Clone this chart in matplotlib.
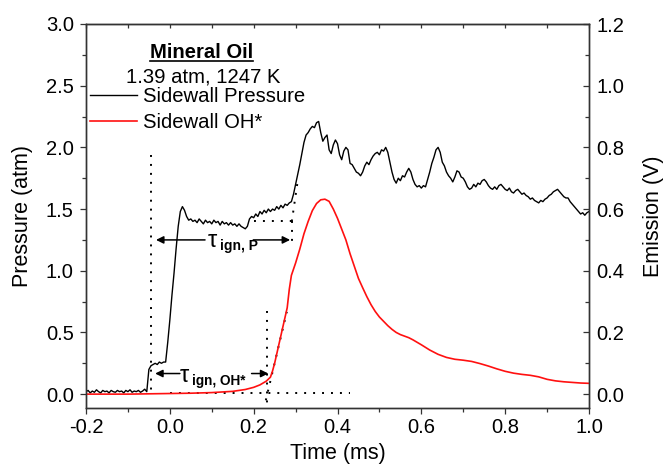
import numpy as np
import matplotlib
matplotlib.use("Agg")
import matplotlib.pyplot as plt
from matplotlib.lines import Line2D

plt.rcParams['font.family'] = ['Liberation Sans', 'DejaVu Sans']

# ---------------- data ----------------
# Sidewall pressure (atm), sampled every 0.005 ms from -0.2 to 1.0 ms
pres_time = np.round(np.arange(-0.200, 1.0001, 0.005), 3)
pres_atm = [
    0.02, 0.03, 0.01, 0.025, 0.015, 0.035, 0.02, 0.01, 0.03, 0.02,        # -0.20
    0.025, 0.01, 0.03, 0.02, 0.015, 0.03, 0.02, 0.025, 0.01, 0.03,        # -0.15
    0.02, 0.035, 0.015, 0.025, 0.02, 0.03, 0.015, 0.025, 0.04, 0.02,      # -0.10
    0.20, 0.23, 0.24, 0.25, 0.24, 0.26, 0.25, 0.26, 0.26, 0.42,           # -0.05
    0.60, 0.80, 0.98, 1.18, 1.36, 1.48, 1.52, 1.49, 1.44, 1.41,           # 0.00
    1.42, 1.40, 1.41, 1.39, 1.42, 1.40, 1.38, 1.41, 1.39, 1.40,           # 0.05
    1.38, 1.41, 1.39, 1.40, 1.37, 1.40, 1.38, 1.39, 1.37, 1.39,           # 0.10
    1.37, 1.38, 1.36, 1.38, 1.36, 1.35, 1.34, 1.36, 1.42, 1.44,           # 0.15
    1.43, 1.46, 1.44, 1.48, 1.46, 1.49, 1.47, 1.50, 1.48, 1.50,           # 0.20
    1.49, 1.52, 1.50, 1.53, 1.51, 1.54, 1.53, 1.55, 1.56, 1.62,           # 0.25
    1.70, 1.78, 1.86, 1.95, 2.04, 2.10, 2.12, 2.15, 2.17, 2.16,           # 0.30
    2.20, 2.21, 2.12, 2.05, 2.08, 2.10, 1.98, 1.95, 2.02, 2.06,           # 0.35
    2.03, 1.94, 1.90, 1.97, 2.00, 1.98, 1.87, 1.86, 1.83, 1.80,           # 0.40
    1.79, 1.77, 1.80, 1.85, 1.88, 1.86, 1.90, 1.93, 1.95, 1.96,           # 0.45
    1.94, 1.98, 1.97, 2.00, 1.96, 1.88, 1.80, 1.74, 1.71, 1.75,           # 0.50
    1.73, 1.77, 1.76, 1.80, 1.83, 1.80, 1.74, 1.70, 1.68, 1.69,           # 0.55
    1.67, 1.69, 1.68, 1.74, 1.80, 1.87, 1.92, 1.98, 2.00, 1.96,           # 0.60
    1.88, 1.85, 1.80, 1.77, 1.75, 1.72, 1.76, 1.81, 1.80, 1.76,           # 0.65
    1.75, 1.72, 1.68, 1.66, 1.67, 1.70, 1.68, 1.71, 1.70, 1.73,           # 0.70
    1.74, 1.72, 1.69, 1.67, 1.66, 1.68, 1.66, 1.69, 1.70, 1.68,           # 0.75
    1.66, 1.65, 1.67, 1.64, 1.63, 1.65, 1.66, 1.64, 1.62, 1.63,           # 0.80
    1.61, 1.60, 1.58, 1.59, 1.57, 1.56, 1.55, 1.57, 1.56, 1.58,           # 0.85
    1.59, 1.61, 1.62, 1.64, 1.65, 1.66, 1.64, 1.62, 1.60, 1.59,           # 0.90
    1.59, 1.56, 1.54, 1.52, 1.50, 1.48, 1.46, 1.47, 1.45, 1.47,           # 0.95
    1.48,                                                                 # 1.00
]

# Sidewall OH* emission (V)
oh_time = [-0.20, -0.10, 0.00, 0.05, 0.10, 0.15, 0.18, 0.20, 0.215, 0.23,
           0.24, 0.245, 0.25, 0.255, 0.26, 0.265, 0.27, 0.275, 0.28, 0.285,
           0.29, 0.295, 0.30, 0.31, 0.32, 0.33, 0.34, 0.35, 0.36, 0.37,
           0.38, 0.39, 0.40, 0.41, 0.42, 0.43, 0.44, 0.45, 0.46, 0.47,
           0.48, 0.49, 0.50, 0.51, 0.52, 0.53, 0.54, 0.55, 0.56, 0.57,
           0.58, 0.59, 0.60, 0.62, 0.64, 0.66, 0.68, 0.70, 0.72, 0.74,
           0.76, 0.78, 0.80, 0.82, 0.84, 0.86, 0.88, 0.90, 0.92, 0.94,
           0.96, 0.98, 1.00]
oh_volt = [0.000, 0.000, 0.002, 0.003, 0.005, 0.009, 0.015, 0.022, 0.030, 0.042,
           0.055, 0.075, 0.100, 0.130, 0.160, 0.190, 0.220, 0.250, 0.280, 0.340,
           0.385, 0.405, 0.425, 0.470, 0.520, 0.560, 0.595, 0.618, 0.630, 0.632,
           0.625, 0.600, 0.570, 0.535, 0.500, 0.455, 0.415, 0.375, 0.345, 0.316,
           0.290, 0.268, 0.250, 0.236, 0.222, 0.210, 0.200, 0.193, 0.188, 0.183,
           0.176, 0.168, 0.160, 0.143, 0.129, 0.119, 0.113, 0.110, 0.106, 0.099,
           0.091, 0.082, 0.074, 0.068, 0.064, 0.061, 0.056, 0.048, 0.043, 0.040,
           0.038, 0.036, 0.035]

# construction (dotted) lines, in pressure units
guide_p_vert_t = [-0.044, -0.044]
guide_p_vert_y = [1.94, 0.0]
guide_p_flat_t = [0.20, 0.291]
guide_p_flat_y = [1.40, 1.40]
guide_p_tan_t = [0.291, 0.306]
guide_p_tan_y = [1.40, 1.75]
guide_p_drop_t = [0.291, 0.291]
guide_p_drop_y = [1.40, 1.20]
guide_oh_vert_t = [0.231, 0.231]
guide_oh_vert_y = [0.67, -0.08]
guide_oh_base_t = [0.0, 0.43]
guide_oh_base_y = [0.01, 0.01]
guide_oh_tan_t = [0.229, 0.279]
guide_oh_tan_y = [-0.05, 0.667]

# ignition-delay arrows (start, end) in data units
arrow_p_y = 1.25
arrow_p_left = (0.084, -0.033)
arrow_p_right = (0.199, 0.287)
arrow_oh_y = 0.167
arrow_oh_left = (0.024, -0.035)
arrow_oh_right = (0.195, 0.235)

x_ticks = [-0.2, 0.0, 0.2, 0.4, 0.6, 0.8, 1.0]
y_ticks = [0.0, 0.5, 1.0, 1.5, 2.0, 2.5, 3.0]
y2_ticks = [0.0, 0.2, 0.4, 0.6, 0.8, 1.0, 1.2]

# ---------------- figure ----------------
W, H = 666, 465
fig = plt.figure(figsize=(W / 100, H / 100), dpi=100)
L, R, T, B = 86, 589, 24, 407.7
ax = fig.add_axes([L / W, 1 - B / H, (R - L) / W, (B - T) / H])
ax2 = ax.twinx()

ymin, ymax = -0.11, 3.0
ax.set_xlim(-0.2, 1.0)
ax.set_ylim(ymin, ymax)
ax2.set_ylim(ymin * 0.4, ymax * 0.4)

lp, = ax.plot(pres_time, pres_atm, color='black', lw=1.0, label='Sidewall Pressure')
lo, = ax2.plot(oh_time, oh_volt, color='#ff1010', lw=1.2, label='Sidewall OH*')

dot = dict(color='black', lw=1.4, ls=(0, (1, 3.6)))
for tt, yy in [(guide_p_vert_t, guide_p_vert_y), (guide_p_flat_t, guide_p_flat_y),
               (guide_p_tan_t, guide_p_tan_y), (guide_p_drop_t, guide_p_drop_y),
               (guide_oh_vert_t, guide_oh_vert_y), (guide_oh_base_t, guide_oh_base_y),
               (guide_oh_tan_t, guide_oh_tan_y)]:
    ax.plot(tt, yy, **dot)

ap = dict(arrowstyle='-|>', color='black', lw=1.1, mutation_scale=11, shrinkA=0, shrinkB=0)
for (x0, x1), yv in [(arrow_p_left, arrow_p_y), (arrow_p_right, arrow_p_y),
                     (arrow_oh_left, arrow_oh_y), (arrow_oh_right, arrow_oh_y)]:
    ax.annotate('', xy=(x1, yv), xytext=(x0, yv), arrowprops=ap)

# tau labels
ax.text(0.091, 1.195, 'τ', fontsize=17, ha='left', va='baseline')
ax.text(0.120, 1.168, 'ign, P', fontsize=10, fontweight='bold', ha='left', va='baseline')
ax.text(0.0243, 0.10, 'τ', fontsize=17, ha='left', va='baseline')
ax.text(0.052, 0.073, 'ign, OH*', fontsize=9.8, fontweight='bold', ha='left', va='baseline')

# axes styling
for a in (ax, ax2):
    for s in a.spines.values():
        s.set_color('#333333')
        s.set_linewidth(1.0)

ax.set_xticks(x_ticks)
ax.set_xticklabels([f'{v:.1f}' for v in x_ticks])
ax.set_xticks(np.arange(-0.1, 1.0, 0.2), minor=True)
ax.set_yticks(y_ticks)
ax.set_yticklabels([f'{v:.1f}' for v in y_ticks])
ax.set_yticks(np.arange(0.25, 3.0, 0.5), minor=True)
ax2.set_yticks(y2_ticks)
ax2.set_yticklabels([f'{v:.1f}' for v in y2_ticks])
ax2.set_yticks(np.arange(0.1, 1.2, 0.2), minor=True)

TS = 14.5
ax.tick_params(axis='x', which='major', direction='out', length=4.5, width=0.9,
               labelsize=TS, pad=3, color='#333333')
ax.tick_params(axis='x', which='minor', direction='out', length=3, width=0.9,
               color='#333333')
ax.tick_params(axis='y', which='major', direction='out', length=4.5, width=0.9,
               labelsize=TS, pad=4.3, color='#333333')
ax.tick_params(axis='y', which='minor', direction='out', length=2.7, width=0.9,
               color='#333333')
ax2.tick_params(axis='y', which='major', direction='in', length=4.3, width=0.9,
                labelsize=TS, pad=5.5, color='#333333')
ax2.tick_params(axis='y', which='minor', direction='in', length=2.7, width=0.9,
                color='#333333')

# top axis: inward ticks, no labels
top = ax.secondary_xaxis('top')
top.set_xticks(x_ticks)
top.set_xticks(np.arange(-0.1, 1.0, 0.2), minor=True)
top.tick_params(axis='x', which='both', direction='in', length=3, width=0.9,
                labeltop=False, color='#333333')
top.spines['top'].set_color('#333333')

ax.set_xlabel('Time (ms)', fontsize=15.5, labelpad=4)
ax.set_ylabel('Pressure (atm)', fontsize=15.5, labelpad=9)
ax2.set_ylabel('Emission (V)', fontsize=15.5, labelpad=13)

# title block and legend
FS = 14.6
title = ax.text(0.230, 0.925, 'Mineral Oil', transform=ax.transAxes, fontsize=FS,
                fontweight='bold', ha='center', va='center')
ax.text(0.2326, 0.862, '1.39 atm, 1247 K', transform=ax.transAxes, fontsize=FS,
        ha='center', va='center')
leg = ax.legend(handles=[lp, lo], loc='upper left',
                bbox_to_anchor=((90 - L) / (R - L), 1 - (87.5 - T) / (B - T)),
                frameon=False, fontsize=FS, handlelength=2.3, handletextpad=0.3,
                borderpad=0, borderaxespad=0, labelspacing=0.32)

# underline for the title
fig.canvas.draw()
bb = title.get_window_extent()
ly = bb.y0 + 1.5
fig.add_artist(Line2D([bb.x0 / W, bb.x1 / W], [ly / H, ly / H], color='black', lw=1.2,
                      transform=fig.transFigure))

fig.savefig('out.png', dpi=100)
